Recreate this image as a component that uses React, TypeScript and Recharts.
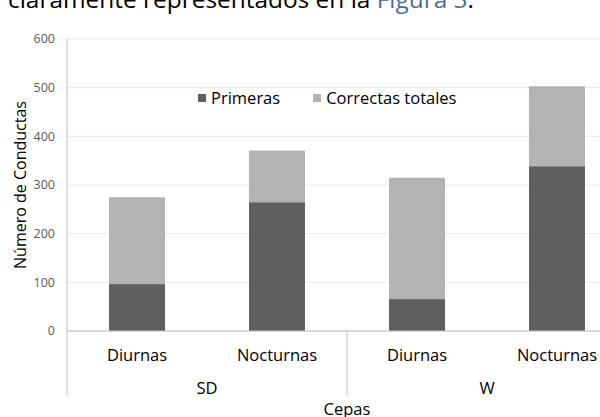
import { BarChart, Bar, XAxis, YAxis, CartesianGrid, Legend, Label } from 'recharts';

const cepas = ['SD', 'SD', 'W', 'W'];
const periodos = ['Diurnas', 'Nocturnas', 'Diurnas', 'Nocturnas'];
const primeras = [96, 264, 65, 338];
const correctasTotales = [275, 371, 315, 503];
const yTicks = [0, 100, 200, 300, 400, 500, 600];

const data = periodos.map((p, i) => ({
  id: `${cepas[i]}|${p}`,
  cepa: cepas[i],
  periodo: p,
  primeras: primeras[i],
  correctas: correctasTotales[i],
}));

const DARK = '#5f5f5f';
const LIGHT = '#b3b3b3';
const AXIS = '#bfbfbf';
const FONT = '"Open Sans", sans-serif';

const PLOT_LEFT = 67;
const PLOT_W = 560;
const BAND = PLOT_W / data.length;

function CategoryTick(props: any) {
  const { x, y, payload, index } = props;
  const d = data[index];
  const showGroup = index % 2 === 0;
  return (
    <g>
      <text x={x} y={y + 22} textAnchor="middle" fontSize={16.5} fill="#000" fontFamily={FONT}>
        {d ? d.periodo : payload.value}
      </text>
      {showGroup && (
        <>
          <text x={x + BAND / 2} y={y + 55} textAnchor="middle" fontSize={16.5} fill="#000" fontFamily={FONT}>
            {d.cepa}
          </text>
          <line x1={x - BAND / 2} x2={x - BAND / 2} y1={y - 8} y2={y + 57} stroke={AXIS} />
        </>
      )}
      {index === data.length - 1 && (
        <line x1={x + BAND / 2} x2={x + BAND / 2} y1={y - 8} y2={y + 57} stroke={AXIS} />
      )}
    </g>
  );
}

function LegendContent() {
  const items = [
    { label: 'Primeras', color: DARK },
    { label: 'Correctas totales', color: LIGHT },
  ];
  return (
    <div style={{ display: 'flex', fontFamily: FONT, fontSize: 16.5, color: '#000' }}>
      {items.map((it) => (
        <div key={it.label} style={{ display: 'flex', alignItems: 'center', marginRight: 33 }}>
          <span style={{ width: 8, height: 8, background: it.color, display: 'inline-block', marginRight: 5 }} />
          <span>{it.label}</span>
        </div>
      ))}
    </div>
  );
}

export default function App() {
  return (
    <div style={{ position: 'fixed', left: 0, top: 0, width: 600, height: 417, overflow: 'hidden', background: '#fff' }}>
      <svg width={600} height={30} style={{ position: 'absolute', left: 0, top: 0 }}>
        <text x={8} y={8} fontSize={24} fontFamily={FONT} fill="#000" textLength={466} lengthAdjust="spacingAndGlyphs">
          claramente representados en la <tspan fill="#4a6e94">Figura 3</tspan>.
        </text>
      </svg>
      <BarChart
        width={640}
        height={430}
        data={data}
        margin={{ top: 16, right: 640 - PLOT_LEFT - PLOT_W, left: 0, bottom: 0 }}
        barSize={56}
      >
        <CartesianGrid vertical={false} stroke="#ebebeb" />
        <YAxis
          width={PLOT_LEFT}
          domain={[0, 600]}
          ticks={yTicks}
          axisLine={{ stroke: AXIS }}
          tickLine={false}
          tick={{ fontSize: 12.5, fill: '#595959', fontFamily: FONT }}
          tickMargin={6}
        >
          <Label
            value="Número de Conductas"
            angle={-90}
            position="insideLeft"
            offset={20}
            style={{ textAnchor: 'middle', fontSize: 16, fill: '#000', fontFamily: FONT }}
          />
        </YAxis>
        <XAxis
          dataKey="id"
          height={99}
          axisLine={{ stroke: AXIS }}
          tickLine={false}
          tick={<CategoryTick />}
          interval={0}
        >
          <Label
            value="Cepas"
            position="insideBottom"
            offset={15}
            style={{ fontSize: 16.5, fill: '#000', fontFamily: FONT }}
          />
        </XAxis>
        <XAxis dataKey="id" xAxisId="over" hide />
        <Legend
          verticalAlign="top"
          content={<LegendContent />}
          wrapperStyle={{ top: 86, left: 198, width: 'auto' }}
        />
        <Bar dataKey="correctas" name="Correctas totales" fill={LIGHT} xAxisId="over" isAnimationActive={false} />
        <Bar dataKey="primeras" name="Primeras" fill={DARK} isAnimationActive={false} />
      </BarChart>
    </div>
  );
}
